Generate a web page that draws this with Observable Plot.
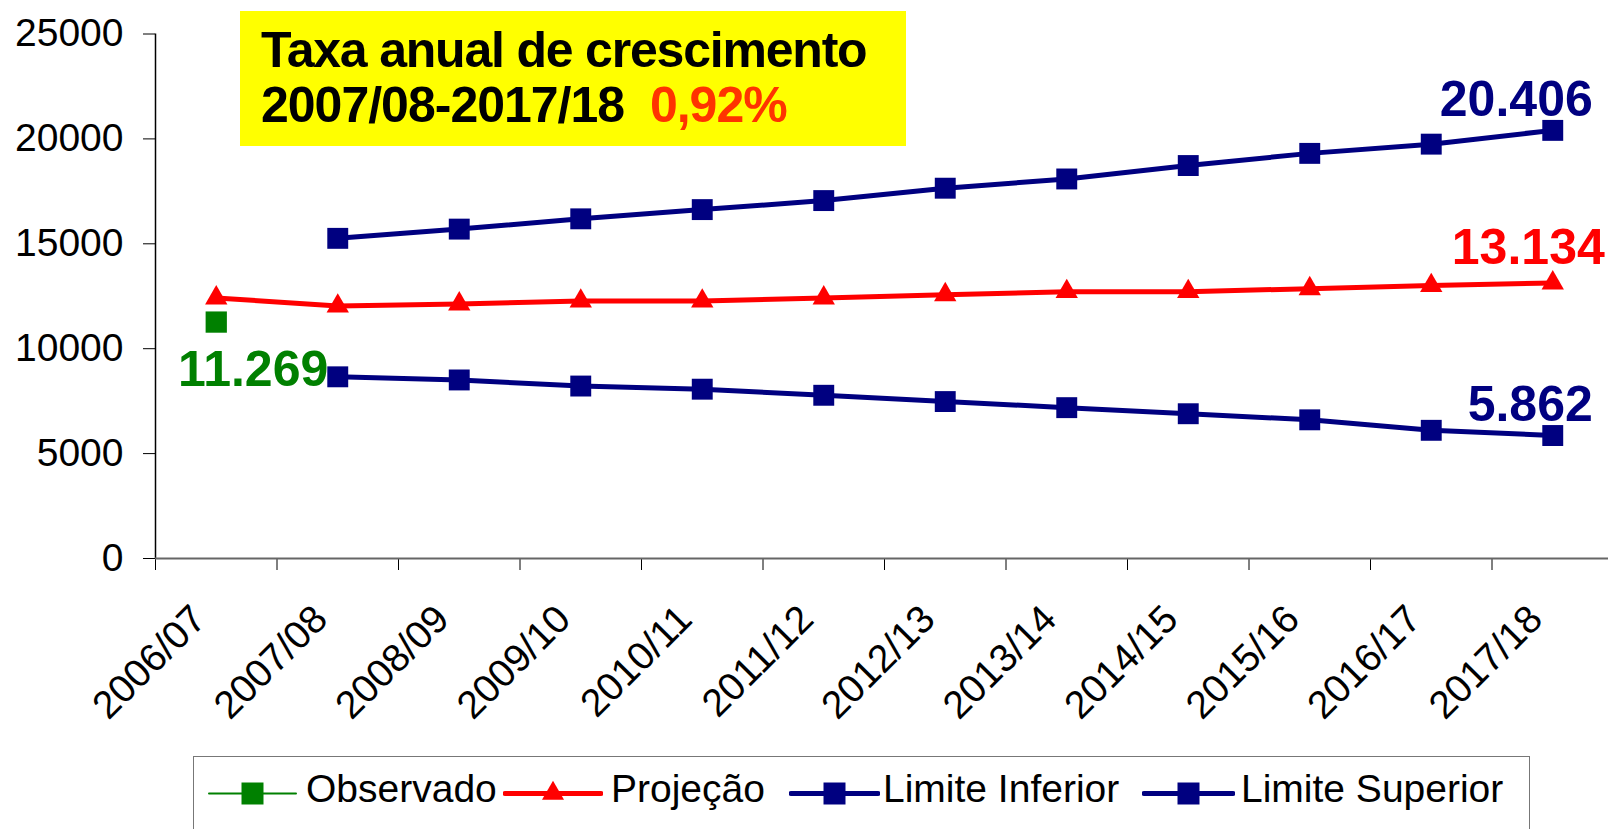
<!DOCTYPE html>
<html>
<head>
<meta charset="utf-8">
<script src="https://cdn.jsdelivr.net/npm/d3@7"></script>
<script src="https://cdn.jsdelivr.net/npm/@observablehq/plot@0.6"></script>
<style>
  html, body { margin: 0; padding: 0; background: #fff; overflow: hidden; }
  body { width: 1608px; height: 829px; position: relative; font-family: "Liberation Sans", Arial, sans-serif; }
  #chart { position: absolute; left: 0; top: 0; }
  #box { position: absolute; left: 240px; top: 11px; width: 666px; height: 135px; background: #ffff00;
         font-weight: bold; font-size: 50px; line-height: 55px; color: #000; box-sizing: border-box;
         padding: 12px 0 0 21px; white-space: pre; }
  #box .l1 { letter-spacing: -1.2px; }
  #box .l2 { letter-spacing: -1px; }
  #box .pct { color: #ff3300; }
  #legend { position: absolute; left: 193px; top: 756px; width: 1337px; height: 110px; box-sizing: border-box;
            border: 1.5px solid #777; background: #fff; }
  .item { position: absolute; top: 0; height: 100%; }
  .item svg { position: absolute; top: 0; }
  .item span { position: absolute; font-size: 39px; line-height: 39px; top: 11.5px; white-space: nowrap; color: #000; }
</style>
</head>
<body>
<div id="chart"></div>
<div id="box"><div class="l1">Taxa anual de crescimento</div><div class="l2">2007/08-2017/18  <span class="pct">0,92%</span></div></div>
<div id="legend"></div>
<script>
// ---- data ----
const categories = ["2006/07","2007/08","2008/09","2009/10","2010/11","2011/12","2012/13","2013/14","2014/15","2015/16","2016/17","2017/18"];
const observado      = [11269, null, null, null, null, null, null, null, null, null, null, null];
const projecao       = [12420, 12030, 12130, 12270, 12270, 12420, 12570, 12720, 12720, 12860, 13010, 13134];
const limiteInferior = [null, 8660, 8510, 8220, 8070, 7780, 7480, 7190, 6900, 6610, 6110, 5862];
const limiteSuperior = [null, 15260, 15700, 16190, 16630, 17060, 17650, 18090, 18730, 19310, 19750, 20406];
const yTicks = [0, 5000, 10000, 15000, 20000, 25000];
const seriesNames = ["Observado", "Projeção", "Limite Inferior", "Limite Superior"];
const colors = {green: "#008000", red: "#ff0000", navy: "#000080"};

const fmt = v => d3.format(",")(v).replace(/,/g, ".");
const rows = categories.map((c, i) => ({
  pos: i + 0.5, cat: c,
  obs: observado[i], proj: projecao[i], inf: limiteInferior[i], sup: limiteSuperior[i]
}));
const last = rows[rows.length - 1];
const first = rows[0];

const band = 121.5;
const xMax = (1608 - 155) / band;

const chart = Plot.plot({
  width: 1608,
  height: 756,
  marginLeft: 155,
  marginRight: 0,
  marginTop: 33.5,
  marginBottom: 198,
  style: { fontFamily: "'Liberation Sans', Arial, sans-serif", fontSize: "39px", background: "transparent", overflow: "visible" },
  x: { type: "linear", domain: [0, xMax], axis: null },
  y: { domain: [0, 25000], axis: null },
  marks: [
    Plot.axisY({ ticks: yTicks, tickSize: 12, tickPadding: 20, tickFormat: d => String(d), label: null, stroke: "#000" }),
    Plot.axisX({ ticks: d3.range(0, 12), tickSize: 12, tickFormat: () => "", label: null, stroke: "#000" }),
    Plot.axisX({ ticks: rows.map(d => d.pos), tickSize: 0, tickPadding: 54, dx: -17, tickRotate: -45,
                 tickFormat: v => categories[Math.floor(v)], label: null }),
    Plot.ruleX([0], { stroke: "#000", strokeWidth: 1.5 }),
    Plot.ruleY([0], { stroke: "#666", strokeWidth: 2 }),
    // lines
    Plot.line(rows.filter(d => d.sup != null), { x: "pos", y: "sup", stroke: colors.navy, strokeWidth: 5 }),
    Plot.line(rows.filter(d => d.inf != null), { x: "pos", y: "inf", stroke: colors.navy, strokeWidth: 5 }),
    Plot.line(rows, { x: "pos", y: "proj", stroke: colors.red, strokeWidth: 5 }),
    // markers
    Plot.dot(rows.filter(d => d.sup != null), { x: "pos", y: "sup", symbol: "square", r: 11.8, fill: colors.navy }),
    Plot.dot(rows.filter(d => d.inf != null), { x: "pos", y: "inf", symbol: "square", r: 11.8, fill: colors.navy }),
    Plot.dot(rows, { x: "pos", y: "proj", symbol: "triangle", r: 8.3, fill: colors.red }),
    Plot.dot(rows.filter(d => d.obs != null), { x: "pos", y: "obs", symbol: "square", r: 12, fill: colors.green }),
    // value labels
    Plot.text([last], { x: "pos", y: "sup", text: d => fmt(d.sup), fill: colors.navy, fontSize: 50, fontWeight: "bold",
                        textAnchor: "end", lineAnchor: "bottom", dx: 40, dy: -14 }),
    Plot.text([last], { x: "pos", y: "proj", text: d => fmt(d.proj), fill: colors.red, fontSize: 50, fontWeight: "bold",
                        textAnchor: "end", lineAnchor: "bottom", dx: 52, dy: -19 }),
    Plot.text([last], { x: "pos", y: "inf", text: d => fmt(d.inf), fill: colors.navy, fontSize: 50, fontWeight: "bold",
                        textAnchor: "end", lineAnchor: "bottom", dx: 40, dy: -15 }),
    Plot.text([first], { x: "pos", y: "obs", text: d => fmt(d.obs), fill: colors.green, fontSize: 50, fontWeight: "bold",
                         textAnchor: "end", lineAnchor: "bottom", dx: 112, dy: 64 })
  ]
});
document.getElementById("chart").appendChild(chart);

// ---- legend ----
const legendItems = [
  { name: seriesNames[0], color: colors.green, symbol: "square", lineW: 2, lineX: 208 - 193, lineLen: 87, textX: 305 - 193 },
  { name: seriesNames[1], color: colors.red, symbol: "triangle", lineW: 5, lineX: 504 - 193, lineLen: 96, textX: 610 - 193 },
  { name: seriesNames[2], color: colors.navy, symbol: "square", lineW: 5, lineX: 790 - 193, lineLen: 87, textX: 882 - 193 },
  { name: seriesNames[3], color: colors.navy, symbol: "square", lineW: 5, lineX: 1143 - 193, lineLen: 89, textX: 1240 - 193 }
];
const legend = document.getElementById("legend");
const NS = "http://www.w3.org/2000/svg";
for (const it of legendItems) {
  const div = document.createElement("div");
  div.className = "item";
  div.style.left = "0px";
  const svg = document.createElementNS(NS, "svg");
  svg.setAttribute("width", it.lineLen + 4);
  svg.setAttribute("height", 60);
  svg.style.left = (it.lineX - 2) + "px";
  const cy = 794 - 757.5;
  const line = document.createElementNS(NS, "line");
  line.setAttribute("x1", 2); line.setAttribute("x2", it.lineLen + 2);
  line.setAttribute("y1", cy); line.setAttribute("y2", cy);
  line.setAttribute("stroke", it.color); line.setAttribute("stroke-width", it.lineW);
  line.setAttribute("stroke-linecap", "round");
  svg.appendChild(line);
  const cx = 2 + it.lineLen / 2;
  const sym = document.createElementNS(NS, "path");
  const size = it.symbol === "square" ? 22 * 22 : Math.sqrt(3) / 4 * 22 * 22;
  sym.setAttribute("d", d3.symbol(it.symbol === "square" ? d3.symbolSquare : d3.symbolTriangle, size)());
  sym.setAttribute("transform", `translate(${cx},${cy})`);
  sym.setAttribute("fill", it.color);
  svg.appendChild(sym);
  div.appendChild(svg);
  const span = document.createElement("span");
  span.textContent = it.name;
  span.style.left = it.textX + "px";
  div.appendChild(span);
  legend.appendChild(div);
}
</script>
</body>
</html>
